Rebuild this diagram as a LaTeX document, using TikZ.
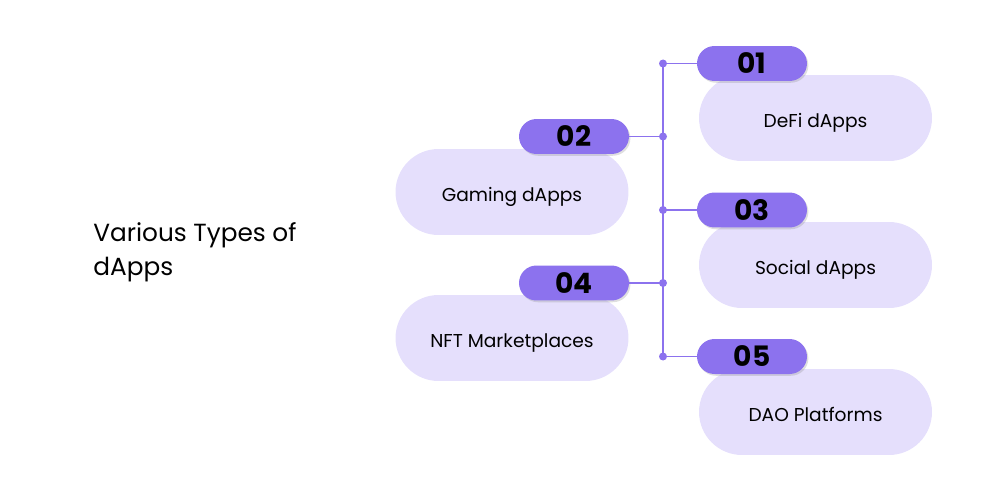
\documentclass[tikz,border=0pt]{standalone}
\usepackage{fontspec}
\setmainfont{Poppins}
\usetikzlibrary{shadows}
\definecolor{pillc}{HTML}{8C72EE}
\definecolor{boxc}{HTML}{E5DFFC}
\newcommand{\lowtext}[1]{\raisebox{-5.2pt}[0pt][0pt]{#1}}
\begin{document}
\begin{tikzpicture}[x=0.02cm,y=-0.02cm,
  itembox/.style={fill=boxc, draw=none, rounded corners=0.86cm, minimum width=4.66cm, minimum height=1.72cm, inner sep=0pt, font=\fontsize{10.6}{12}\selectfont},
  pill/.style={fill=pillc, draw=none, rounded corners=0.35cm, minimum width=2.2cm, minimum height=0.7cm, inner sep=0pt, font=\fontsize{16}{18}\selectfont\bfseries, drop shadow={opacity=0.25, shadow xshift=0.8pt, shadow yshift=-1pt}},
  dotc/.style={circle, fill=pillc, inner sep=0pt, minimum size=0.16cm},
  link/.style={draw=pillc, line width=0.9pt}]
\useasboundingbox (0,0) rectangle (1000,500);
\node[anchor=west, align=left, inner sep=0pt, font=\fontsize{14.1}{19.3}\selectfont] (title) at (93,252) {Various Types of\\dApps};
% boxes
\node[itembox] (b1) at (815.5,118) {\lowtext{DeFi dApps}};
\node[itembox] (b2) at (512,192) {\lowtext{Gaming dApps}};
\node[itembox] (b3) at (815.5,265) {\lowtext{Social dApps}};
\node[itembox] (b4) at (512,338) {\lowtext{NFT Marketplaces}};
\node[itembox] (b5) at (815.5,412) {\lowtext{DAO Platforms}};
% dots
\node[dotc] (d1) at (663,63.5) {};
\node[dotc] (d2) at (663,136.5) {};
\node[dotc] (d3) at (663,210) {};
\node[dotc] (d4) at (663,283) {};
\node[dotc] (d5) at (663,356.5) {};
\draw[link] (d1.center) -- (d5.center);
% pills
\node[pill] (p1) at (752,63.5) {01};
\node[pill] (p2) at (574,136.5) {02};
\node[pill] (p3) at (752,210) {03};
\node[pill] (p4) at (574,283) {04};
\node[pill] (p5) at (752,356.5) {05};
\draw[link] (d1.center) -- (p1.west);
\draw[link] (p2.east) -- (d2.center);
\draw[link] (d3.center) -- (p3.west);
\draw[link] (p4.east) -- (d4.center);
\draw[link] (d5.center) -- (p5.west);
\end{tikzpicture}
\end{document}
